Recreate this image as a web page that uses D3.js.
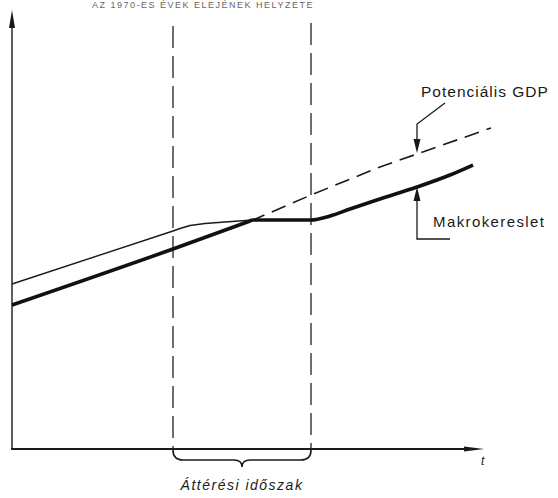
<!DOCTYPE html>
<html>
<head>
<meta charset="utf-8">
<script src="https://cdn.jsdelivr.net/npm/d3@7"></script>
<style>
	html, body { margin: 0; padding: 0; background: #fff; }
	svg { display: block; }
	text { font-family: "Liberation Sans", "DejaVu Sans", sans-serif; fill: #1a1a1a; }
</style>
</head>
<body>
<div id="chart"></div>
<script>
// idő (t) és szint értékek
var potT = [0, 161, 241, 299, 368, 479];
var potY = [144, 200, 229, 254, 282, 321];

var makroT = [0, 161, 236, 241, 270, 299, 318, 338, 368, 405, 438, 461];
var makroY = [144, 200, 227.2, 229, 229, 229, 233, 240, 250, 262, 274, 284];

var thinT = [0, 161, 168, 178, 193, 213, 241];
var thinY = [165, 218, 220.5, 223.5, 225.5, 227, 229];

var periodT = [161, 299]; // áttérési időszak határai
var labels = {
	title: "AZ 1970-ES ÉVEK ELEJÉNEK HELYZETE",
	pot: "Potenciális GDP",
	makro: "Makrokereslet",
	period: "Áttérési időszak",
	t: "t"
};

var W = 558, H = 498;
var svg = d3.select("#chart").append("svg")
	.attr("width", W).attr("height", H);

var x = d3.scaleLinear().domain([0, 480]).range([12, 492]);
var y = d3.scaleLinear().domain([0, 440]).range([449, 9]);

function zip(ts, ys){
	return ts.map(function(t, i){ return [t, ys[i]]; });
}

var line = d3.line()
	.x(function(d){ return x(d[0]); })
	.y(function(d){ return y(d[1]); });

var smoothLine = d3.line()
	.x(function(d){ return x(d[0]); })
	.y(function(d){ return y(d[1]); })
	.curve(d3.curveMonotoneX);

// cím (a kép tetején alig látszik)
svg.append("text")
	.attr("x", 92).attr("y", 8)
	.attr("font-size", 9)
	.attr("letter-spacing", 1.5)
	.style("fill", "#666")
	.text(labels.title);

// tengelyek
var axisCol = "#1a1a1a";
svg.append("line")
	.attr("x1", x(0)).attr("y1", y(0))
	.attr("x2", x(0)).attr("y2", 20)
	.attr("stroke", axisCol).attr("stroke-width", 1.4);
svg.append("path")
	.attr("d", "M" + x(0) + ",10 L" + (x(0) - 3) + ",28 L" + (x(0) + 3) + ",28 Z")
	.attr("fill", axisCol);

svg.append("line")
	.attr("x1", x(0) - 1).attr("y1", y(0))
	.attr("x2", 476).attr("y2", y(0))
	.attr("stroke", axisCol).attr("stroke-width", 1.8);
svg.append("path")
	.attr("d", "M484," + y(0) + " L464," + (y(0) - 2.5) + " L464," + (y(0) + 2.5) + " Z")
	.attr("fill", axisCol);

svg.append("text")
	.attr("x", 481).attr("y", 465)
	.attr("font-size", 12)
	.attr("font-style", "italic")
	.text(labels.t);

// áttérési időszak szaggatott függőleges vonalai
svg.selectAll("line.period")
	.data(periodT)
	.enter().append("line")
	.attr("class", "period")
	.attr("x1", function(d){ return x(d); })
	.attr("x2", function(d){ return x(d); })
	.attr("y1", function(d, i){ return i == 0 ? 26 : 23; })
	.attr("y2", y(0))
	.attr("stroke", "#222")
	.attr("stroke-width", 1.3)
	.attr("stroke-dasharray", "22,8");

// kapcsos zárójel
var bx0 = x(periodT[0]), bx1 = x(periodT[1]), bm = (bx0 + bx1) / 2;
var by = y(0) + 1;
svg.append("path")
	.attr("d", "M" + bx0 + "," + by +
		" Q" + bx0 + "," + (by + 10) + " " + (bx0 + 10) + "," + (by + 10) +
		" L" + (bm - 8) + "," + (by + 10) +
		" Q" + bm + "," + (by + 10) + " " + bm + "," + (by + 17) +
		" Q" + bm + "," + (by + 10) + " " + (bm + 8) + "," + (by + 10) +
		" L" + (bx1 - 10) + "," + (by + 10) +
		" Q" + bx1 + "," + (by + 10) + " " + bx1 + "," + by)
	.attr("fill", "none")
	.attr("stroke", "#1a1a1a")
	.attr("stroke-width", 1.6);

svg.append("text")
	.attr("x", bm).attr("y", 490)
	.attr("text-anchor", "middle")
	.attr("font-size", 14)
	.attr("font-style", "italic")
	.attr("letter-spacing", 1.5)
	.text(labels.period);

// potenciális GDP (szaggatott)
svg.append("path")
	.datum(zip(potT, potY))
	.attr("d", line)
	.attr("fill", "none")
	.attr("stroke", "#1a1a1a")
	.attr("stroke-width", 1.6)
	.attr("stroke-dasharray", "15,8");

// vékony vonal
svg.append("path")
	.datum(zip(thinT, thinY))
	.attr("d", line)
	.attr("fill", "none")
	.attr("stroke", "#1a1a1a")
	.attr("stroke-width", 1.4)
	.attr("stroke-linejoin", "round");

// makrokereslet (vastag)
svg.append("path")
	.datum(zip(makroT, makroY))
	.attr("d", smoothLine)
	.attr("fill", "none")
	.attr("stroke", "#111")
	.attr("stroke-width", 3.6)
	.attr("stroke-linejoin", "round");

// feliratok nyilakkal
var ax = 417;
var potAt = y(282) + (ax - x(368)) / (x(479) - x(368)) * (y(321) - y(282));
svg.append("path")
	.attr("d", "M445,103 L" + ax + ",124 L" + ax + "," + (potAt - 12))
	.attr("fill", "none").attr("stroke", "#1a1a1a").attr("stroke-width", 1.3);
svg.append("path")
	.attr("d", "M" + ax + "," + (potAt - 1) + " L" + (ax - 3.5) + "," + (potAt - 15) +
		" L" + (ax + 3.5) + "," + (potAt - 15) + " Z")
	.attr("fill", "#1a1a1a");
svg.append("text")
	.attr("x", 421).attr("y", 97)
	.attr("font-size", 15.5)
	.attr("letter-spacing", 1)
	.text(labels.pot);

var makAt = 186;
svg.append("path")
	.attr("d", "M" + ax + "," + (makAt + 12) + " L" + ax + ",239 L450,239")
	.attr("fill", "none").attr("stroke", "#1a1a1a").attr("stroke-width", 1.3);
svg.append("path")
	.attr("d", "M" + ax + "," + (makAt + 1) + " L" + (ax - 3.5) + "," + (makAt + 15) +
		" L" + (ax + 3.5) + "," + (makAt + 15) + " Z")
	.attr("fill", "#1a1a1a");
svg.append("text")
	.attr("x", 433).attr("y", 227)
	.attr("font-size", 15)
	.attr("letter-spacing", 1.4)
	.text(labels.makro);
</script>
</body>
</html>
